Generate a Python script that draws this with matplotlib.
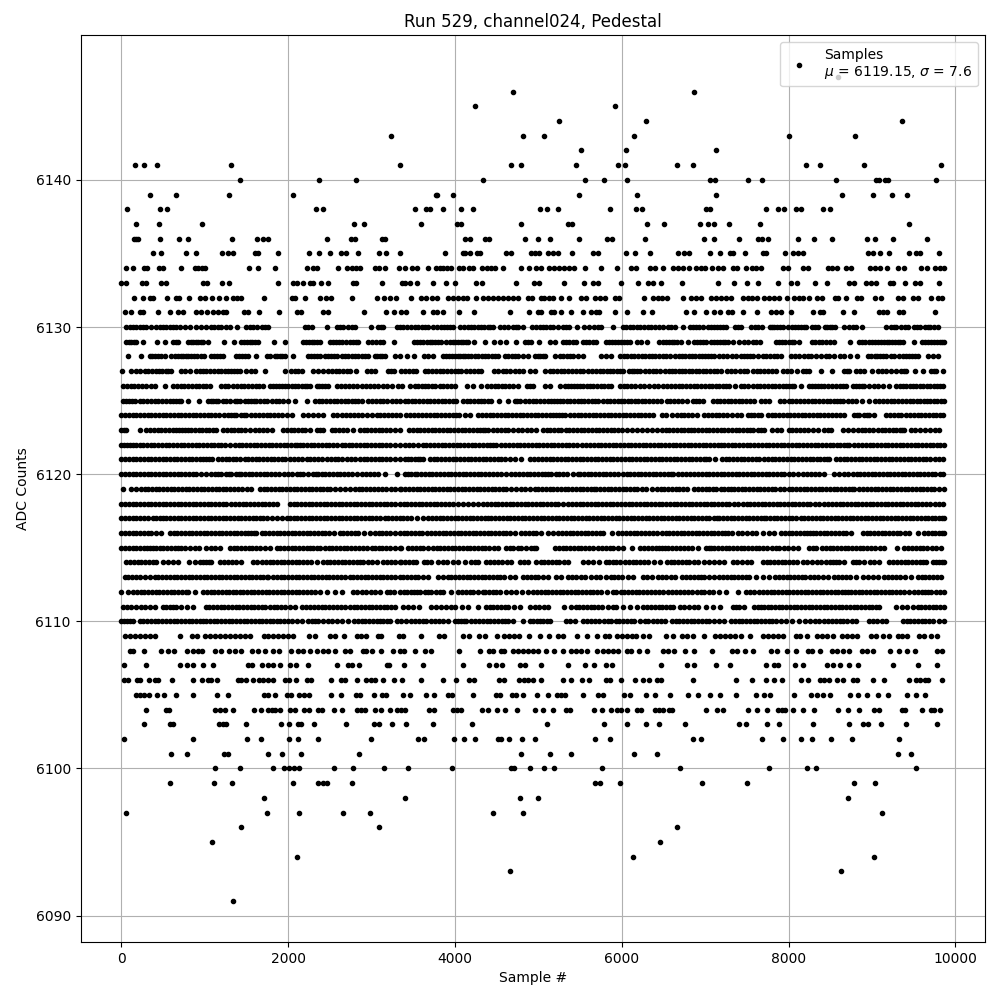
import numpy as np
import matplotlib
matplotlib.use("Agg")
import matplotlib.pyplot as plt

# -------------------------------
# Sample numbers, one list per ADC level
# -------------------------------
s6147 = [8592]
s6146 = [4700, 6864]
s6145 = [4244, 5916]
s6144 = [5244, 6288, 9360]
s6143 = [3236, 4820, 5064, 6144, 8004, 8796]
s6142 = [5508, 6048, 7128]
s6141 = [168, 276, 428, 1316, 3344, 4676, 4796, 5448, 5952, 6040, 6660, 6852, 8208, 8376, 8904, 9828]
s6140 = [1424, 2372, 2816, 4340, 5556, 5784, 6060, 7056, 7116, 7512, 7680, 8568, 9048, 9084, 9156, 9192, 9768]
s6139 = [344, 656, 1292, 2060, 3768, 3788, 3980, 5484, 6180, 7128, 8640, 9012, 9240, 9420]
s6138 = [68, 464, 548, 2336, 2420, 3524, 3656, 3704, 3860, 4076, 4220, 5016, 5100, 5232, 5856, 6168, 6240,
         7008, 7056, 7728, 7872, 7944, 8088, 8148, 8412, 8496]
s6137 = [176, 452, 968, 2792, 2912, 3596, 4028, 4076, 4796, 5352, 5400, 6300, 6504, 6936, 7032, 7104, 7284,
         7656, 9444]
s6136 = [148, 172, 196, 464, 692, 800, 1328, 1628, 1700, 1760, 2468, 2748, 2800, 3120, 3160, 4124, 4184, 4364,
         4404, 4844, 4992, 5136, 5484, 5820, 5880, 6276, 6984, 7104, 7404, 7632, 7680, 7752, 8112, 8304, 8520,
         8940, 9036, 9252, 9660]
s6135 = [380, 476, 776, 896, 1208, 1280, 1340, 1604, 1640, 1880, 2252, 2372, 2504, 2636, 2696, 2840, 3092, 3176,
         3344, 3884, 4100, 4124, 4184, 4268, 4304, 4616, 4676, 4912, 4960, 5012, 5112, 5172, 5232, 5400, 5652,
         5712, 6048, 6156, 6336, 6672, 6744, 6804, 7056, 7176, 7292, 7332, 7476, 7692, 7732, 7956, 8052, 8112,
         8172, 8952, 9012, 9096, 9204, 9444, 9532, 9572, 9804]
s6134 = [56, 140, 272, 308, 452, 500, 716, 884, 920, 968, 1004, 1532, 1640, 1844, 2228, 2300, 2340, 2600, 2708,
         2760, 2816, 2864, 3044, 3092, 3164, 3332, 3404, 3480, 3540, 3680, 3776, 3820, 3860, 3900, 3950, 4052,
         4100, 4172, 4220, 4324, 4380, 4430, 4480, 4580, 4796, 4892, 4972, 5032, 5132, 5192, 5252, 5312, 5372,
         5432, 5556, 5752, 5940, 6112, 6164, 6336, 6396, 6492, 6612, 6672, 6732, 6804, 6892, 6952, 7000, 7084,
         7156, 7216, 7332, 7380, 7488, 7560, 7612, 7672, 7932, 7992, 8172, 8232, 8472, 8524, 8580, 8692, 8752,
         8972, 9032, 9092, 9180, 9312, 9380, 9592, 9660, 9752, 9812, 9860]
s6133 = [-4, 56, 248, 296, 476, 536, 980, 1028, 1208, 1292, 1880, 2060, 2108, 2180, 2260, 2300, 2396, 2480, 2780,
         2816, 3128, 3368, 3404, 3464, 3548, 3740, 3896, 4000, 4256, 4328, 4736, 4952, 5012, 5312, 5544, 5652,
         5712, 5988, 6192, 6312, 6372, 6468, 6720, 7152, 7344, 7500, 7632, 7872, 8028, 8100, 8316, 8460, 8724,
         8780, 8932, 8992, 9044, 9212, 9252, 9396, 9512, 9580, 9804]
s6132 = [152, 260, 344, 380, 548, 656, 692, 812, 944, 1004, 1088, 1172, 1256, 1340, 1388, 1436, 1712, 2048, 2084,
         2204, 2384, 2456, 2516, 2764, 3068, 3152, 3224, 3296, 3476, 3596, 3656, 3728, 3788, 3920, 3980, 4040,
         4100, 4148, 4256, 4340, 4400, 4460, 4520, 4580, 4640, 4700, 4760, 4880, 4928, 5032, 5072, 5132, 5172,
         5268, 5364, 5512, 5572, 5680, 5740, 5796, 5924, 5972, 6264, 6372, 6432, 6480, 6540, 6732, 6832, 6892,
         6952, 7072, 7132, 7192, 7252, 7312, 7452, 7512, 7560, 7620, 7704, 7764, 7824, 7884, 7976, 8064, 8124,
         8172, 8244, 8340, 8404, 8552, 8592, 8688, 8820, 8872, 9036, 9108, 9312, 9372, 9492, 9552, 9708, 9792, 9840]
s6131 = [44, 116, 224, 260, 440, 584, 680, 740, 896, 956, 1028, 1100, 1160, 1220, 1256, 1472, 1520, 1652, 1892,
         2108, 2156, 2420, 2480, 2912, 3176, 3272, 3356, 3416, 3620, 3740, 3788, 3860, 4052, 4232, 4664, 4892,
         4992, 5032, 5152, 5192, 5272, 5388, 5532, 5632, 5692, 5724, 5916, 6060, 6252, 6360, 6768, 6864, 7008,
         7104, 7172, 7272, 7320, 7452, 7616, 7788, 7852, 7908, 8028, 8292, 8372, 8412, 8652, 8784, 9084, 9132,
         9180, 9324, 9372, 9756]
s6130 = [60, 100, 140, 180, 220, 260, 300, 360, 420, 460, 500, 540, 580, 620, 660, 700, 760, 820, 900, 960, 1020,
         1072, 1116, 1160, 1200, 1250, 1300, 1388, 1500, 1540, 1580, 1630, 1680, 1720, 1760, 2200, 2240, 2280,
         2460, 2580, 2620, 2660, 2720, 2760, 2800, 2992, 3080, 3110, 3140, 3300, 3340, 3380, 3425, 3470, 3515,
         3560, 3600, 3640, 3680, 3740, 3785, 3830, 3865, 3900, 3940, 3980, 4060, 4105, 4150, 4190, 4230, 4270,
         4310, 4350, 4390, 4425, 4460, 4540, 4590, 4640, 4700, 4730, 4760, 4820, 4920, 4970, 5020, 5055, 5090,
         5135, 5180, 5235, 5290, 5330, 5372, 5464, 5552, 5612, 5672, 5712, 5752, 5892, 6012, 6052, 6092, 6132,
         6176, 6220, 6265, 6310, 6355, 6400, 6445, 6492, 6552, 6592, 6632, 6732, 6812, 6850, 6890, 6930, 6972,
         7032, 7070, 7110, 7145, 7180, 7215, 7252, 7352, 7392, 7432, 7552, 7592, 7632, 7680, 7772, 7800, 7830,
         7860, 7892, 7932, 7992, 8035, 8080, 8115, 8150, 8180, 8212, 8284, 8318, 8352, 8432, 8460, 8490, 8520,
         8552, 8664, 8724, 8768, 8812, 8880, 9164, 9232, 9262, 9292, 9352, 9392, 9432, 9500, 9535, 9572, 9632,
         9665, 9700, 9745, 9792]
s6129 = [60, 90, 120, 150, 180, 260, 428, 524, 620, 650, 680, 800, 830, 860, 890, 920, 950, 980, 1040, 1228, 1352,
         1440, 1475, 1510, 1540, 1570, 1605, 1640, 1832, 1960, 2180, 2215, 2250, 2280, 2310, 2345, 2380, 2500,
         2535, 2570, 2605, 2640, 2690, 2740, 2780, 2810, 2840, 2960, 3005, 3050, 3095, 3140, 3272, 3504, 3540,
         3580, 3620, 3660, 3695, 3730, 3765, 3796, 3836, 3896, 3935, 3970, 4005, 4040, 4070, 4100, 4130, 4156,
         4224, 4356, 4468, 4536, 4608, 4732, 4836, 4875, 4916, 5008, 5136, 5196, 5296, 5335, 5370, 5415, 5456,
         5536, 5575, 5610, 5655, 5696, 5808, 5845, 5880, 5920, 5960, 5995, 6030, 6065, 6096, 6176, 6224, 6304,
         6448, 6490, 6530, 6565, 6600, 6630, 6656, 6708, 6788, 6868, 6905, 6940, 6975, 7008, 7068, 7105, 7140,
         7175, 7210, 7240, 7268, 7328, 7408, 7460, 7508, 7568, 7612, 7656, 7848, 7885, 7920, 7960, 8000, 8035,
         8068, 8120, 8280, 8320, 8360, 8405, 8450, 8500, 8548, 8740, 8848, 8885, 8920, 8960, 9000, 9035, 9070,
         9105, 9140, 9175, 9208, 9240, 9275, 9310, 9340, 9368, 9500, 9600, 9635, 9670, 9705, 9740, 9775, 9810,
         9840, 9868]
s6128 = [76, 236, 340, 370, 400, 440, 480, 520, 600, 640, 680, 710, 740, 770, 800, 840, 875, 910, 950, 988, 1080,
         1115, 1150, 1185, 1220, 1380, 1415, 1450, 1485, 1520, 1612, 1740, 1780, 1840, 1870, 1900, 1930, 1960,
         2052, 2240, 2275, 2310, 2345, 2380, 2440, 2475, 2510, 2545, 2580, 2640, 2680, 2720, 2760, 2800, 2840,
         2880, 2920, 2960, 3040, 3070, 3100, 3130, 3160, 3280, 3336, 3424, 3512, 3624, 3676, 3736, 3856, 3895,
         3930, 3965, 4000, 4030, 4056, 4096, 4125, 4156, 4196, 4240, 4280, 4320, 4360, 4400, 4440, 4480, 4516,
         4596, 4640, 4680, 4720, 4760, 4820, 4876, 4956, 4990, 5020, 5050, 5076, 5196, 5256, 5300, 5340, 5380,
         5420, 5480, 5536, 5756, 5816, 5868, 5976, 6020, 6060, 6105, 6150, 6195, 6240, 6280, 6320, 6360, 6400,
         6445, 6490, 6535, 6576, 6636, 6680, 6720, 6760, 6800, 6840, 6880, 6920, 6960, 6995, 7030, 7070, 7108,
         7168, 7215, 7260, 7315, 7368, 7428, 7465, 7500, 7535, 7568, 7628, 7688, 7728, 7775, 7820, 7865, 7908,
         8028, 8080, 8130, 8180, 8228, 8268, 8328, 8388, 8448, 8488, 8548, 8610, 8668, 8740, 8816, 8948, 8990,
         9030, 9065, 9100, 9135, 9168, 9228, 9268, 9328, 9370, 9410, 9445, 9480, 9515, 9548, 9668, 9728, 9792]
s6127 = [8, 120, 170, 220, 280, 325, 370, 410, 450, 490, 530, 565, 600, 720, 760, 828, 900, 940, 980, 1020, 1065,
         1110, 1155, 1200, 1240, 1280, 1315, 1350, 1385, 1420, 1500, 1550, 1600, 1724, 1960, 2028, 2080, 2120,
         2160, 2300, 2360, 2420, 2480, 2525, 2570, 2615, 2660, 2700, 2740, 2812, 2940, 2990, 3040, 3200, 3235,
         3270, 3356, 3405, 3450, 3495, 3536, 3636, 3680, 3720, 3770, 3816, 3856, 3905, 3950, 3995, 4036, 4076,
         4136, 4185, 4230, 4275, 4316, 4464, 4516, 4576, 4616, 4656, 4716, 4765, 4816, 4896, 4956, 5076, 5136,
         5180, 5220, 5265, 5310, 5355, 5400, 5450, 5496, 5536, 5590, 5640, 5690, 5736, 5776, 5820, 5860, 5900,
         5940, 5980, 6016, 6088, 6120, 6150, 6185, 6216, 6276, 6325, 6370, 6415, 6456, 6516, 6560, 6600, 6640,
         6680, 6720, 6760, 6800, 6840, 6885, 6930, 6970, 7010, 7055, 7100, 7145, 7188, 7256, 7310, 7360, 7415,
         7468, 7500, 7568, 7615, 7660, 7705, 7750, 7800, 7848, 7928, 7980, 8028, 8096, 8168, 8210, 8248, 8384,
         8516, 8660, 8695, 8728, 8812, 8860, 8908, 8996, 9068, 9120, 9170, 9230, 9288, 9348, 9380, 9408, 9516,
         9608, 9708, 9740, 9768, 9848]
s6126 = [20, 65, 110, 155, 200, 250, 300, 350, 400, 520, 620, 665, 710, 755, 800, 845, 890, 935, 980, 1020, 1060,
         1200, 1240, 1280, 1340, 1385, 1430, 1475, 1520, 1565, 1610, 1655, 1700, 1780, 1815, 1850, 1885, 1920,
         1960, 2000, 2040, 2080, 2120, 2160, 2200, 2230, 2260, 2340, 2375, 2410, 2445, 2480, 2580, 2630, 2680,
         2730, 2780, 2830, 2880, 2930, 2980, 3030, 3080, 3140, 3190, 3240, 3320, 3360, 3456, 3516, 3560, 3600,
         3640, 3680, 3720, 3756, 3816, 3860, 3900, 3950, 3996, 4148, 4216, 4316, 4384, 4430, 4476, 4516, 4560,
         4600, 4650, 4696, 4756, 4864, 4900, 4936, 5076, 5136, 5256, 5316, 5356, 5395, 5430, 5465, 5496, 5536,
         5580, 5620, 5660, 5700, 5745, 5790, 5835, 5876, 5976, 6020, 6060, 6110, 6156, 6216, 6270, 6320, 6380,
         6436, 6496, 6545, 6590, 6635, 6680, 6725, 6770, 6815, 6860, 6905, 6950, 6995, 7040, 7085, 7130, 7170,
         7210, 7250, 7288, 7356, 7428, 7470, 7508, 7568, 7615, 7660, 7705, 7750, 7795, 7840, 7885, 7930, 7965,
         8000, 8035, 8068, 8144, 8248, 8285, 8320, 8355, 8388, 8428, 8475, 8520, 8565, 8610, 8650, 8688, 8768,
         8805, 8840, 8875, 8908, 8968, 9020, 9068, 9128, 9208, 9288, 9330, 9370, 9410, 9450, 9490, 9530, 9570,
         9610, 9655, 9700, 9740, 9780, 9815, 9848]
s6125 = [20, 55, 90, 125, 160, 220, 265, 310, 355, 400, 445, 490, 535, 580, 615, 650, 685, 720, 800, 932, 1040,
         1070, 1100, 1130, 1160, 1220, 1260, 1300, 1360, 1390, 1420, 1480, 1515, 1550, 1585, 1620, 1660, 1705,
         1750, 1800, 1850, 1895, 1940, 2000, 2080, 2220, 2320, 2365, 2410, 2455, 2500, 2545, 2590, 2635, 2680,
         2720, 2760, 2800, 2840, 2880, 2960, 3005, 3050, 3095, 3140, 3190, 3240, 3290, 3340, 3396, 3440, 3480,
         3525, 3570, 3615, 3660, 3705, 3750, 3795, 3840, 3885, 3930, 3975, 4016, 4096, 4140, 4180, 4225, 4270,
         4310, 4350, 4395, 4436, 4528, 4636, 4716, 4745, 4776, 4836, 4885, 4930, 4975, 5020, 5065, 5110, 5150,
         5190, 5225, 5256, 5296, 5340, 5380, 5425, 5470, 5510, 5550, 5595, 5640, 5680, 5716, 5776, 5820, 5860,
         5905, 5950, 5990, 6030, 6070, 6110, 6155, 6196, 6236, 6280, 6320, 6370, 6416, 6464, 6536, 6580, 6620,
         6670, 6716, 6776, 6848, 6890, 6930, 6968, 7088, 7135, 7180, 7225, 7268, 7308, 7355, 7400, 7445, 7490,
         7540, 7588, 7668, 7720, 7768, 7900, 7950, 8000, 8045, 8088, 8136, 8185, 8230, 8275, 8320, 8365, 8410,
         8455, 8500, 8540, 8580, 8615, 8648, 8708, 8760, 8808, 8880, 8960, 9040, 9085, 9130, 9180, 9228, 9268,
         9315, 9360, 9405, 9450, 9495, 9540, 9580, 9620, 9660, 9700, 9740, 9780, 9825, 9868]
s6124 = [0, 45, 90, 135, 180, 225, 270, 315, 360, 405, 450, 495, 540, 585, 630, 675, 720, 765, 810, 855, 900, 945,
         990, 1035, 1080, 1125, 1170, 1225, 1280, 1320, 1350, 1380, 1440, 1470, 1500, 1560, 1605, 1650, 1695, 1740,
         1785, 1830, 1875, 1920, 1980, 2040, 2180, 2240, 2300, 2360, 2420, 2540, 2590, 2640, 2690, 2740, 2790,
         2840, 2890, 2940, 3000, 3060, 3105, 3150, 3200, 3250, 3295, 3340, 3416, 3465, 3510, 3555, 3600, 3650,
         3700, 3745, 3790, 3835, 3880, 3925, 3970, 4010, 4050, 4116, 4180, 4276, 4325, 4370, 4415, 4460, 4505,
         4550, 4595, 4640, 4685, 4730, 4775, 4820, 4865, 4910, 4955, 5000, 5045, 5090, 5135, 5180, 5215, 5250,
         5285, 5316, 5376, 5425, 5470, 5515, 5560, 5605, 5650, 5695, 5740, 5785, 5830, 5875, 5920, 5965, 6010,
         6055, 6100, 6145, 6190, 6235, 6280, 6330, 6376, 6476, 6535, 6596, 6656, 6705, 6750, 6795, 6836, 6900,
         6988, 7035, 7080, 7125, 7168, 7208, 7265, 7320, 7375, 7428, 7508, 7550, 7590, 7630, 7668, 7748, 7795,
         7840, 7885, 7930, 7975, 8020, 8065, 8110, 8155, 8200, 8245, 8290, 8335, 8380, 8425, 8470, 8520, 8570,
         8620, 8668, 8788, 8820, 8848, 8908, 8938, 8968, 9028, 9168, 9215, 9260, 9305, 9348, 9408, 9455, 9500,
         9545, 9590, 9635, 9680, 9725, 9770, 9815, 9856]
s6123 = [0, 30, 60, 220, 300, 345, 390, 435, 480, 525, 570, 615, 660, 695, 730, 765, 800, 840, 885, 930, 970, 1010,
         1055, 1100, 1140, 1220, 1265, 1310, 1355, 1400, 1440, 1480, 1540, 1600, 1650, 1700, 1750, 1800, 1940,
         1985, 2030, 2075, 2120, 2160, 2200, 2260, 2340, 2380, 2420, 2520, 2565, 2610, 2655, 2700, 2780, 2860,
         2905, 2950, 2995, 3040, 3085, 3130, 3175, 3220, 3280, 3340, 3448, 3495, 3540, 3585, 3630, 3675, 3720,
         3765, 3810, 3855, 3900, 3945, 3990, 4035, 4080, 4125, 4170, 4215, 4260, 4295, 4330, 4365, 4396, 4456,
         4505, 4550, 4595, 4636, 4696, 4750, 4800, 4860, 4916, 4976, 5056, 5100, 5140, 5190, 5236, 5276, 5325,
         5370, 5415, 5460, 5505, 5550, 5595, 5640, 5685, 5730, 5775, 5820, 5865, 5910, 5955, 6000, 6060, 6116,
         6176, 6240, 6300, 6360, 6416, 6476, 6525, 6570, 6615, 6660, 6705, 6750, 6790, 6828, 6868, 6915, 6960,
         7005, 7050, 7095, 7140, 7185, 7230, 7275, 7320, 7365, 7410, 7455, 7500, 7535, 7568, 7628, 7668, 7708,
         7800, 7855, 7908, 8000, 8045, 8090, 8135, 8180, 8235, 8288, 8348, 8428, 8468, 8508, 8648, 8710, 8768,
         8828, 8875, 8920, 8965, 9008, 9068, 9115, 9160, 9205, 9250, 9290, 9330, 9360, 9388, 9468, 9520, 9570,
         9630, 9690, 9750, 9808]
s6122 = [0, 35, 70, 105, 140, 180, 220, 260, 305, 350, 395, 440, 485, 530, 575, 620, 665, 710, 755, 800, 845, 890,
         935, 980, 1025, 1070, 1115, 1160, 1200, 1240, 1300, 1360, 1405, 1450, 1495, 1540, 1585, 1630, 1675, 1720,
         1765, 1810, 1855, 1900, 1945, 1990, 2035, 2080, 2110, 2140, 2180, 2225, 2270, 2315, 2360, 2405, 2450,
         2495, 2540, 2590, 2640, 2680, 2725, 2770, 2815, 2860, 2905, 2950, 2995, 3040, 3085, 3130, 3175, 3220,
         3280, 3340, 3396, 3450, 3500, 3560, 3616, 3656, 3705, 3750, 3795, 3840, 3885, 3930, 3975, 4020, 4065,
         4110, 4155, 4200, 4245, 4290, 4335, 4380, 4420, 4456, 4496, 4556, 4605, 4650, 4695, 4740, 4785, 4830,
         4875, 4920, 4965, 5010, 5055, 5100, 5145, 5190, 5235, 5280, 5325, 5370, 5415, 5460, 5520, 5576, 5616,
         5665, 5710, 5755, 5800, 5845, 5890, 5935, 5980, 6025, 6070, 6115, 6160, 6205, 6250, 6295, 6340, 6385,
         6430, 6475, 6520, 6565, 6610, 6655, 6700, 6745, 6790, 6835, 6880, 6925, 6970, 7015, 7060, 7105, 7150,
         7190, 7228, 7268, 7315, 7360, 7405, 7450, 7495, 7540, 7585, 7630, 7680, 7728, 7768, 7815, 7860, 7905,
         7950, 7995, 8040, 8085, 8130, 8175, 8220, 8265, 8310, 8355, 8400, 8445, 8490, 8535, 8580, 8620, 8660,
         8695, 8728, 8788, 8835, 8880, 8925, 8970, 9015, 9060, 9105, 9150, 9195, 9240, 9285, 9330, 9375, 9420,
         9465, 9510, 9555, 9600, 9645, 9690, 9735, 9780, 9820, 9860]
s6121 = [0, 45, 90, 135, 180, 225, 270, 315, 360, 405, 450, 495, 540, 580, 625, 670, 715, 760, 805, 850, 895, 940,
         980, 1020, 1055, 1090, 1160, 1205, 1250, 1295, 1340, 1380, 1420, 1480, 1520, 1565, 1610, 1655, 1700, 1745,
         1790, 1835, 1880, 1920, 1960, 2020, 2070, 2120, 2170, 2220, 2260, 2310, 2360, 2410, 2460, 2510, 2560,
         2600, 2650, 2700, 2750, 2800, 2860, 2905, 2950, 2995, 3040, 3085, 3130, 3175, 3220, 3280, 3340, 3396,
         3436, 3476, 3516, 3556, 3586, 3616, 3696, 3745, 3790, 3835, 3880, 3925, 3970, 4015, 4060, 4105, 4150,
         4195, 4240, 4285, 4330, 4375, 4420, 4465, 4510, 4555, 4600, 4660, 4716, 4796, 4904, 4950, 5000, 5045,
         5090, 5135, 5180, 5225, 5270, 5315, 5360, 5405, 5450, 5495, 5540, 5585, 5630, 5675, 5720, 5765, 5810,
         5855, 5900, 5945, 5990, 6035, 6080, 6125, 6170, 6215, 6260, 6305, 6350, 6395, 6440, 6485, 6530, 6575,
         6620, 6665, 6710, 6755, 6800, 6845, 6890, 6935, 6980, 7015, 7048, 7120, 7200, 7245, 7290, 7335, 7380,
         7425, 7470, 7515, 7560, 7605, 7650, 7700, 7750, 7795, 7840, 7888, 7935, 7980, 8025, 8070, 8115, 8160,
         8205, 8250, 8295, 8340, 8380, 8420, 8455, 8488, 8568, 8615, 8660, 8705, 8750, 8795, 8840, 8885, 8930,
         8975, 9020, 9065, 9110, 9155, 9200, 9245, 9290, 9335, 9380, 9425, 9470, 9515, 9560, 9605, 9650, 9700,
         9750, 9800, 9848]
s6120 = [0, 45, 90, 135, 180, 225, 270, 315, 360, 405, 450, 495, 540, 585, 630, 675, 720, 765, 810, 855, 900, 960,
         1020, 1070, 1120, 1160, 1200, 1260, 1290, 1320, 1380, 1410, 1440, 1480, 1525, 1570, 1615, 1660, 1705,
         1750, 1795, 1840, 1895, 1950, 1995, 2040, 2100, 2140, 2180, 2240, 2300, 2330, 2360, 2400, 2445, 2490,
         2535, 2580, 2625, 2670, 2715, 2760, 2820, 2880, 2930, 2980, 3030, 3080, 3160, 3300, 3396, 3436, 3476,
         3516, 3550, 3595, 3640, 3685, 3730, 3775, 3820, 3865, 3910, 3955, 4000, 4045, 4090, 4135, 4180, 4225,
         4270, 4315, 4360, 4405, 4450, 4505, 4556, 4616, 4676, 4725, 4770, 4815, 4860, 4905, 4950, 4995, 5040,
         5080, 5116, 5156, 5205, 5250, 5295, 5340, 5410, 5476, 5496, 5545, 5590, 5635, 5680, 5725, 5770, 5815,
         5860, 5910, 5960, 6016, 6060, 6100, 6145, 6190, 6235, 6280, 6325, 6370, 6415, 6460, 6505, 6550, 6585,
         6616, 6676, 6725, 6770, 6820, 6868, 6915, 6960, 7005, 7050, 7095, 7140, 7185, 7230, 7275, 7320, 7365,
         7410, 7455, 7500, 7545, 7590, 7635, 7680, 7725, 7770, 7815, 7860, 7905, 7950, 8000, 8048, 8108, 8168,
         8220, 8270, 8320, 8368, 8428, 8548, 8608, 8660, 8708, 8768, 8815, 8860, 8905, 8950, 8995, 9040, 9085,
         9130, 9175, 9220, 9265, 9310, 9355, 9400, 9445, 9490, 9535, 9580, 9625, 9670, 9715, 9760, 9810, 9856]
s6119 = [20, 120, 180, 230, 280, 320, 365, 410, 455, 500, 545, 590, 635, 680, 725, 770, 815, 860, 905, 950, 995,
         1040, 1085, 1130, 1175, 1220, 1260, 1305, 1350, 1400, 1450, 1505, 1560, 1660, 1705, 1750, 1795, 1840,
         1885, 1930, 1975, 2020, 2065, 2110, 2155, 2200, 2245, 2290, 2335, 2380, 2420, 2460, 2500, 2560, 2620,
         2680, 2740, 2800, 2845, 2890, 2935, 2980, 3030, 3080, 3120, 3175, 3230, 3285, 3340, 3356, 3405, 3450,
         3495, 3540, 3585, 3630, 3675, 3720, 3765, 3810, 3855, 3900, 3945, 3990, 4035, 4080, 4125, 4170, 4215,
         4260, 4305, 4350, 4395, 4440, 4485, 4530, 4575, 4616, 4676, 4735, 4790, 4845, 4896, 4956, 4996, 5045,
         5090, 5135, 5180, 5225, 5270, 5315, 5360, 5405, 5450, 5495, 5540, 5585, 5630, 5665, 5696, 5736, 5785,
         5830, 5875, 5920, 5965, 6010, 6055, 6100, 6140, 6176, 6236, 6295, 6356, 6416, 6465, 6510, 6555, 6600,
         6645, 6690, 6735, 6776, 6860, 6910, 6960, 7005, 7048, 7090, 7128, 7188, 7230, 7270, 7310, 7348, 7388,
         7435, 7480, 7525, 7570, 7615, 7660, 7705, 7750, 7795, 7840, 7895, 7948, 8000, 8045, 8090, 8135, 8180,
         8225, 8270, 8315, 8360, 8405, 8450, 8495, 8540, 8585, 8630, 8675, 8720, 8755, 8788, 8848, 8895, 8940,
         8985, 9030, 9075, 9120, 9165, 9210, 9255, 9300, 9345, 9390, 9435, 9480, 9525, 9570, 9615, 9660, 9705,
         9748, 9808, 9860]
s6118 = [0, 45, 90, 135, 180, 225, 270, 315, 360, 405, 450, 495, 540, 585, 630, 675, 720, 765, 810, 855, 900, 945,
         990, 1035, 1080, 1125, 1170, 1215, 1260, 1310, 1360, 1410, 1460, 1500, 1545, 1590, 1635, 1680, 1725, 1770,
         1815, 1860, 2020, 2065, 2110, 2155, 2200, 2245, 2290, 2335, 2380, 2425, 2470, 2515, 2560, 2605, 2650,
         2695, 2740, 2785, 2830, 2875, 2920, 2965, 3010, 3055, 3100, 3145, 3190, 3235, 3280, 3340, 3385, 3430,
         3475, 3520, 3565, 3610, 3655, 3700, 3745, 3790, 3835, 3880, 3925, 3970, 4030, 4096, 4156, 4216, 4276,
         4336, 4385, 4430, 4475, 4520, 4565, 4610, 4655, 4700, 4745, 4790, 4835, 4880, 4925, 4970, 5015, 5060,
         5105, 5150, 5195, 5240, 5296, 5356, 5405, 5450, 5495, 5540, 5585, 5630, 5675, 5720, 5765, 5810, 5855,
         5900, 5945, 5990, 6035, 6080, 6125, 6170, 6215, 6260, 6305, 6350, 6395, 6440, 6485, 6530, 6575, 6620,
         6665, 6710, 6755, 6800, 6845, 6890, 6935, 6980, 7025, 7068, 7108, 7155, 7200, 7245, 7290, 7340, 7388,
         7448, 7495, 7540, 7585, 7630, 7675, 7720, 7765, 7810, 7855, 7900, 7945, 7990, 8035, 8080, 8125, 8170,
         8215, 8260, 8315, 8368, 8428, 8475, 8520, 8565, 8610, 8655, 8700, 8745, 8790, 8835, 8880, 8925, 8970,
         9015, 9060, 9105, 9150, 9195, 9240, 9285, 9330, 9375, 9420, 9465, 9510, 9555, 9600, 9645, 9690, 9750,
         9808, 9848]
s6117 = [0, 45, 90, 135, 180, 225, 270, 325, 380, 420, 460, 500, 540, 585, 630, 675, 720, 765, 810, 855, 900, 945,
         990, 1035, 1080, 1125, 1170, 1215, 1260, 1305, 1350, 1395, 1440, 1485, 1530, 1575, 1620, 1660, 1700, 1740,
         1800, 1860, 1920, 1980, 2020, 2065, 2110, 2155, 2200, 2245, 2290, 2335, 2380, 2425, 2470, 2515, 2560,
         2605, 2650, 2695, 2740, 2785, 2830, 2875, 2920, 2965, 3010, 3055, 3100, 3160, 3200, 3245, 3290, 3335,
         3380, 3425, 3470, 3545, 3616, 3676, 3725, 3770, 3815, 3860, 3905, 3950, 3995, 4040, 4085, 4130, 4175,
         4220, 4265, 4310, 4355, 4396, 4436, 4485, 4530, 4575, 4620, 4665, 4710, 4755, 4800, 4845, 4890, 4935,
         4980, 5025, 5070, 5115, 5160, 5205, 5250, 5295, 5340, 5385, 5430, 5475, 5520, 5565, 5610, 5655, 5700,
         5745, 5790, 5835, 5880, 5925, 5970, 6015, 6060, 6105, 6150, 6195, 6240, 6285, 6330, 6375, 6420, 6465,
         6510, 6555, 6600, 6645, 6690, 6735, 6780, 6825, 6870, 6915, 6960, 7005, 7050, 7108, 7138, 7168, 7215,
         7260, 7305, 7350, 7395, 7440, 7485, 7530, 7575, 7620, 7665, 7708, 7728, 7775, 7820, 7865, 7910, 7955,
         8000, 8045, 8090, 8145, 8188, 8235, 8280, 8325, 8370, 8415, 8460, 8505, 8550, 8595, 8640, 8685, 8730,
         8775, 8820, 8865, 8910, 8955, 9000, 9045, 9090, 9135, 9180, 9225, 9270, 9315, 9360, 9405, 9450, 9495,
         9540, 9585, 9630, 9675, 9720, 9760, 9800, 9835, 9868]
s6116 = [0, 45, 90, 135, 180, 225, 270, 315, 360, 420, 480, 580, 625, 670, 715, 760, 805, 850, 895, 940, 985, 1030,
         1075, 1120, 1165, 1210, 1255, 1300, 1345, 1390, 1435, 1480, 1515, 1550, 1585, 1620, 1680, 1725, 1770,
         1815, 1860, 1905, 1950, 1995, 2040, 2085, 2130, 2175, 2220, 2265, 2310, 2355, 2400, 2445, 2490, 2555,
         2620, 2660, 2705, 2750, 2795, 2840, 2910, 2980, 3040, 3085, 3130, 3175, 3220, 3280, 3340, 3385, 3430,
         3475, 3520, 3565, 3610, 3660, 3716, 3756, 3805, 3850, 3895, 3940, 3985, 4030, 4075, 4120, 4165, 4210,
         4255, 4300, 4345, 4390, 4435, 4480, 4525, 4570, 4615, 4656, 4716, 4796, 4845, 4890, 4935, 4976, 5036,
         5110, 5176, 5236, 5285, 5330, 5375, 5420, 5465, 5510, 5555, 5600, 5645, 5690, 5735, 5776, 5884, 5956,
         6005, 6050, 6095, 6140, 6185, 6230, 6275, 6320, 6370, 6416, 6480, 6525, 6570, 6615, 6660, 6705, 6750,
         6795, 6840, 6885, 6930, 6975, 7020, 7065, 7110, 7155, 7200, 7235, 7268, 7316, 7388, 7445, 7500, 7555,
         7608, 7688, 7760, 7828, 7908, 7955, 8000, 8045, 8090, 8135, 8180, 8220, 8260, 8295, 8328, 8375, 8420,
         8465, 8510, 8555, 8600, 8650, 8688, 8748, 8888, 8935, 8980, 9025, 9070, 9115, 9160, 9205, 9250, 9295,
         9340, 9395, 9448, 9548, 9628, 9675, 9720, 9760, 9800, 9835, 9868]
s6115 = [0, 45, 90, 135, 180, 225, 270, 305, 340, 380, 420, 460, 505, 550, 595, 640, 680, 720, 760, 820, 880, 932,
         1020, 1070, 1120, 1188, 1300, 1345, 1390, 1435, 1480, 1525, 1570, 1615, 1660, 1720, 1780, 1860, 1905,
         1950, 1995, 2040, 2085, 2130, 2175, 2220, 2260, 2300, 2340, 2380, 2440, 2485, 2530, 2575, 2620, 2665,
         2710, 2755, 2800, 2850, 2900, 2950, 3000, 3040, 3085, 3130, 3175, 3220, 3280, 3340, 3356, 3436, 3485,
         3530, 3575, 3620, 3680, 3736, 3784, 3825, 3870, 3915, 3960, 4005, 4050, 4095, 4140, 4185, 4230, 4275,
         4320, 4365, 4410, 4465, 4516, 4608, 4655, 4700, 4750, 4796, 4856, 4916, 4945, 4976, 5196, 5245, 5290,
         5335, 5380, 5425, 5470, 5515, 5560, 5610, 5656, 5716, 5765, 5810, 5855, 5900, 5960, 6016, 6124, 6216,
         6265, 6316, 6356, 6405, 6450, 6485, 6516, 6556, 6605, 6650, 6695, 6740, 6790, 6836, 6916, 7010, 7040,
         7068, 7108, 7155, 7200, 7245, 7290, 7335, 7380, 7425, 7470, 7515, 7560, 7605, 7650, 7695, 7740, 7795,
         7848, 7888, 7940, 7990, 8050, 8108, 8248, 8290, 8328, 8400, 8445, 8490, 8535, 8580, 8625, 8670, 8715,
         8760, 8805, 8850, 8895, 8940, 8985, 9030, 9090, 9148, 9296, 9388, 9435, 9480, 9525, 9570, 9615, 9660,
         9715, 9768, 9828]
s6114 = [60, 105, 150, 195, 240, 285, 330, 375, 420, 500, 560, 620, 680, 808, 888, 940, 975, 1010, 1045, 1080,
         1180, 1230, 1280, 1330, 1380, 1440, 1580, 1630, 1680, 1730, 1780, 1820, 1865, 1910, 1955, 2000, 2045,
         2090, 2135, 2180, 2225, 2270, 2345, 2420, 2460, 2505, 2550, 2595, 2640, 2685, 2730, 2775, 2820, 2860,
         2900, 2960, 3010, 3060, 3140, 3185, 3230, 3285, 3340, 3356, 3405, 3450, 3495, 3536, 3624, 3670, 3716,
         3796, 3850, 3900, 3970, 4036, 4116, 4196, 4235, 4276, 4376, 4425, 4470, 4515, 4560, 4620, 4676, 4776,
         4825, 4876, 4976, 5025, 5070, 5115, 5160, 5205, 5250, 5305, 5356, 5536, 5595, 5656, 5724, 5808, 5850,
         5890, 5935, 5976, 6036, 6085, 6130, 6175, 6220, 6265, 6310, 6385, 6456, 6536, 6585, 6630, 6675, 6720,
         6765, 6810, 6860, 6908, 6988, 7045, 7100, 7165, 7228, 7328, 7385, 7440, 7495, 7548, 7688, 7735, 7780,
         7825, 7870, 7915, 7960, 8005, 8048, 8096, 8168, 8225, 8280, 8335, 8388, 8448, 8490, 8530, 8570, 8608,
         8664, 8768, 8810, 8848, 8908, 8970, 9028, 9080, 9208, 9255, 9300, 9345, 9390, 9435, 9480, 9525, 9570,
         9610, 9648, 9728, 9765, 9800, 9835, 9868]
s6113 = [40, 85, 130, 175, 220, 280, 340, 400, 445, 490, 535, 580, 625, 670, 715, 760, 805, 850, 895, 940, 985,
         1030, 1075, 1120, 1165, 1210, 1255, 1300, 1345, 1390, 1435, 1480, 1525, 1570, 1615, 1660, 1700, 1740,
         1760, 1820, 1865, 1910, 1955, 2000, 2045, 2090, 2135, 2180, 2225, 2270, 2315, 2360, 2405, 2450, 2495,
         2540, 2585, 2630, 2685, 2740, 2780, 2825, 2870, 2915, 2960, 3005, 3050, 3095, 3140, 3185, 3230, 3285,
         3340, 3376, 3425, 3470, 3515, 3560, 3620, 3676, 3796, 3855, 3916, 3956, 4005, 4050, 4095, 4140, 4185,
         4230, 4275, 4320, 4365, 4410, 4455, 4500, 4545, 4590, 4655, 4716, 4816, 4865, 4910, 4955, 5000, 5060,
         5116, 5216, 5276, 5356, 5405, 5450, 5505, 5556, 5636, 5685, 5736, 5816, 5865, 5910, 5955, 6000, 6070,
         6136, 6256, 6305, 6356, 6436, 6485, 6530, 6585, 6636, 6716, 6768, 6820, 6865, 6908, 6950, 6990, 7050,
         7108, 7168, 7215, 7260, 7305, 7350, 7395, 7440, 7485, 7530, 7610, 7688, 7760, 7840, 7885, 7930, 7975,
         8020, 8065, 8110, 8155, 8200, 8250, 8300, 8355, 8408, 8468, 8548, 8595, 8640, 8685, 8730, 8810, 8888,
         8948, 9010, 9068, 9148, 9195, 9240, 9285, 9330, 9400, 9468, 9548, 9595, 9640, 9685, 9730, 9780, 9828]
s6112 = [0, 80, 140, 185, 230, 275, 320, 365, 410, 455, 500, 545, 590, 635, 680, 725, 770, 800, 888, 980, 1025,
         1070, 1115, 1160, 1205, 1250, 1295, 1340, 1380, 1420, 1460, 1505, 1550, 1595, 1640, 1685, 1730, 1775,
         1820, 1865, 1910, 1955, 2000, 2045, 2090, 2135, 2180, 2225, 2270, 2325, 2380, 2460, 2564, 2640, 2780,
         2830, 2880, 2935, 2990, 3045, 3100, 3180, 3225, 3270, 3336, 3385, 3430, 3470, 3510, 3545, 3576, 3636,
         3675, 3716, 3776, 3815, 3856, 3956, 4036, 4085, 4130, 4175, 4220, 4280, 4336, 4356, 4405, 4450, 4495,
         4540, 4610, 4676, 4736, 4805, 4876, 4936, 4985, 5030, 5075, 5120, 5165, 5210, 5255, 5300, 5345, 5390,
         5435, 5480, 5525, 5570, 5615, 5660, 5705, 5750, 5825, 5896, 5936, 5985, 6030, 6075, 6120, 6165, 6210,
         6255, 6300, 6350, 6400, 6450, 6496, 6556, 6605, 6650, 6695, 6740, 6790, 6836, 6900, 6945, 6990, 7040,
         7088, 7168, 7248, 7388, 7488, 7540, 7590, 7640, 7690, 7740, 7788, 7828, 7875, 7920, 7965, 8010, 8055,
         8100, 8145, 8190, 8235, 8280, 8325, 8370, 8415, 8460, 8505, 8550, 8595, 8640, 8675, 8708, 8748, 8795,
         8840, 8885, 8930, 8975, 9020, 9065, 9110, 9155, 9200, 9245, 9290, 9335, 9380, 9445, 9508, 9548, 9595,
         9640, 9675, 9708, 9768, 9820, 9868]
s6111 = [20, 65, 110, 175, 240, 280, 340, 400, 500, 540, 580, 620, 660, 720, 790, 860, 1012, 1055, 1100, 1145,
         1190, 1235, 1280, 1325, 1370, 1415, 1460, 1505, 1550, 1595, 1640, 1680, 1720, 1780, 1825, 1870, 1915,
         1960, 2020, 2080, 2160, 2210, 2260, 2310, 2360, 2400, 2445, 2490, 2535, 2580, 2630, 2680, 2740, 2785,
         2830, 2875, 2920, 2965, 3010, 3055, 3100, 3145, 3190, 3235, 3280, 3376, 3440, 3496, 3568, 3716, 3775,
         3836, 3896, 3950, 4000, 4080, 4156, 4276, 4368, 4415, 4460, 4505, 4550, 4595, 4640, 4710, 4776, 4904,
         4960, 5010, 5065, 5116, 5304, 5396, 5445, 5490, 5535, 5580, 5625, 5670, 5715, 5760, 5830, 5896, 5936,
         6015, 6096, 6176, 6256, 6305, 6350, 6395, 6440, 6485, 6530, 6575, 6616, 6696, 6750, 6800, 6860, 6908,
         7008, 7096, 7176, 7328, 7370, 7408, 7468, 7588, 7630, 7670, 7710, 7748, 7788, 7835, 7880, 7925, 7970,
         8015, 8060, 8105, 8150, 8195, 8240, 8285, 8330, 8375, 8420, 8465, 8510, 8555, 8600, 8645, 8690, 8735,
         8780, 8825, 8870, 8915, 8960, 9005, 9048, 9088, 9288, 9355, 9420, 9485, 9548, 9588, 9635, 9680, 9725,
         9770, 9820, 9868]
s6110 = [0, 35, 70, 105, 140, 220, 265, 310, 355, 400, 445, 490, 535, 580, 625, 670, 715, 760, 805, 850, 895, 940,
         980, 1020, 1060, 1105, 1150, 1195, 1240, 1285, 1330, 1375, 1420, 1465, 1510, 1555, 1600, 1645, 1690, 1735,
         1780, 1820, 1860, 1900, 1950, 2000, 2050, 2100, 2170, 2240, 2280, 2320, 2360, 2420, 2475, 2530, 2585,
         2640, 2720, 2788, 2835, 2880, 2925, 2970, 3015, 3060, 3100, 3140, 3180, 3220, 3300, 3356, 3416, 3470,
         3520, 3570, 3616, 3656, 3710, 3760, 3810, 3856, 3916, 3996, 4035, 4070, 4105, 4136, 4196, 4245, 4290,
         4335, 4380, 4425, 4470, 4515, 4560, 4600, 4636, 4696, 4816, 4896, 4940, 4980, 5020, 5060, 5100, 5136,
         5336, 5376, 5444, 5536, 5585, 5630, 5680, 5730, 5785, 5836, 5876, 5925, 5970, 6015, 6060, 6105, 6150,
         6215, 6276, 6316, 6370, 6420, 6470, 6516, 6596, 6645, 6690, 6735, 6780, 6825, 6870, 6915, 6960, 7005,
         7050, 7110, 7168, 7228, 7308, 7355, 7400, 7445, 7490, 7535, 7580, 7625, 7670, 7715, 7760, 7805, 7850,
         7910, 7968, 8036, 8128, 8190, 8250, 8310, 8368, 8428, 8475, 8520, 8565, 8610, 8655, 8700, 8755, 8808,
         8968, 9015, 9060, 9115, 9168, 9368, 9415, 9460, 9505, 9550, 9595, 9640, 9685, 9730, 9800, 9868]
s6109 = [40, 100, 160, 220, 280, 340, 400, 704, 848, 908, 1004, 1064, 1124, 1184, 1244, 1304, 1364, 1424, 1484,
         1544, 1712, 1760, 1820, 1880, 1940, 2000, 2060, 2252, 2324, 2504, 2564, 2672, 2828, 2876, 2936, 3080,
         3116, 3332, 3380, 3596, 3812, 3872, 4100, 4172, 4292, 4364, 4508, 4592, 4652, 4712, 4772, 4892, 5016,
         5124, 5232, 5292, 5460, 5580, 5700, 5796, 5844, 5940, 6000, 6060, 6120, 6168, 6252, 6324, 6528, 6612,
         6720, 6780, 6852, 6984, 7116, 7176, 7236, 7296, 7356, 7428, 7536, 7692, 7752, 7812, 7872, 7932, 8088,
         8136, 8220, 8340, 8400, 8460, 8532, 8640, 8700, 8760, 8820, 8988, 9048, 9132, 9204, 9312, 9360, 9420,
         9564, 9624, 9708, 9780]
s6108 = [104, 140, 272, 476, 560, 632, 788, 860, 920, 968, 1124, 1196, 1292, 1364, 1436, 1568, 1640, 1720, 1820,
         1892, 2036, 2120, 2180, 2260, 2340, 2420, 2480, 2564, 2684, 2744, 2900, 2936, 3008, 3116, 3260, 3344,
         3392, 3524, 3644, 3716, 4052, 4304, 4412, 4460, 4556, 4592, 4700, 4760, 4820, 4880, 4940, 5000, 5088,
         5184, 5292, 5388, 5452, 5512, 5580, 5700, 5772, 5832, 5892, 5952, 6060, 6108, 6204, 6300, 6492, 6552,
         6624, 6756, 6864, 7080, 7320, 7380, 7476, 7572, 7788, 7860, 7980, 8088, 8232, 8280, 8376, 8520, 8580,
         8652, 8724, 8880, 8940, 9012, 9216, 9324, 9420, 9516, 9780, 9840]
s6107 = [32, 296, 704, 788, 860, 980, 1100, 1520, 1568, 1688, 1760, 1820, 1904, 2024, 2096, 2240, 2588, 2720, 2768,
         2852, 3188, 3212, 3392, 3620, 4100, 4412, 4496, 4568, 4784, 4844, 5028, 5352, 5556, 5664, 5808, 5880,
         6468, 6780, 6864, 7128, 7296, 7728, 7824, 7872, 8076, 8172, 8460, 8532, 8616, 8724, 8832, 9252, 9552, 9780]
s6106 = [32, 80, 188, 224, 332, 404, 440, 608, 860, 968, 1040, 1076, 1148, 1400, 1440, 1500, 1580, 1652, 1700,
         1760, 1820, 1964, 2012, 2096, 2228, 2276, 2516, 2636, 2684, 2828, 2936, 2996, 3044, 3140, 3272, 3368,
         3596, 3860, 4016, 4172, 4228, 4532, 4592, 4772, 4832, 4880, 4940, 5028, 5292, 5388, 5520, 5604, 5808,
         5856, 5988, 6156, 6252, 6324, 6420, 6468, 6852, 7368, 7560, 7728, 7824, 7920, 8148, 8232, 8376, 8424,
         8484, 8580, 8652, 8772, 8820, 9012, 9144, 9444, 9528, 9576, 9636, 9672, 9840]
s6105 = [176, 224, 272, 332, 428, 512, 656, 860, 1148, 1280, 1712, 1760, 1844, 1988, 2036, 2132, 2192, 2252, 2516,
         2636, 2816, 2864, 3032, 3128, 3176, 3380, 3464, 3656, 3752, 3920, 3968, 4220, 4496, 4544, 4688, 4736,
         4820, 4980, 5112, 5220, 5268, 5316, 5532, 5712, 5772, 6024, 6096, 6288, 6396, 6576, 6792, 6912, 7056,
         7176, 7368, 7608, 7704, 7776, 8064, 8268, 8340, 8412, 8496, 8736, 8832, 8940, 9072, 9192, 9420, 9528, 9636]
s6104 = [296, 536, 572, 1124, 1184, 1244, 1336, 1592, 1676, 1760, 1800, 1840, 1900, 2024, 2084, 2192, 2252, 2360,
         2408, 2552, 2648, 2828, 2876, 2924, 3044, 3116, 3224, 3308, 3356, 3404, 3692, 3752, 3980, 4028, 4076,
         4328, 4400, 4508, 4604, 4748, 4964, 5052, 5172, 5328, 5376, 5664, 5760, 5868, 5940, 5988, 6060, 6180,
         6228, 6396, 6444, 6492, 6564, 6600, 7008, 7140, 7212, 7512, 7620, 7740, 7872, 7920, 7956, 8052, 8172,
         8304, 8592, 8712, 8844, 9024, 9084, 9360, 9396, 9600, 9708, 9744, 9816]
s6103 = [272, 584, 620, 1172, 1220, 1256, 1496, 1916, 2012, 2120, 2156, 2312, 2696, 3032, 3092, 3248, 3416, 3740,
         4208, 5100, 5784, 6060, 6288, 6444, 6756, 7404, 7488, 7740, 7884, 8292, 8724, 8892, 8952, 9108, 9408, 9780]
s6102 = [32, 860, 1508, 1676, 2012, 2120, 2360, 2996, 3560, 3632, 3992, 4112, 4244, 4520, 4556, 4652, 4808, 4964,
         5676, 5856, 6852, 6948, 7680, 7932, 8148, 8280, 8508, 8760, 9324]
s6101 = [596, 788, 1232, 1280, 1760, 1928, 2156, 2852, 4796, 5136, 5388, 6144, 6420, 9312, 9468]
s6100 = [1124, 1424, 1820, 1952, 2012, 2072, 2132, 2552, 2780, 3152, 3440, 3968, 4676, 4712, 4904, 5064, 5184,
         5760, 6696, 7764, 8220, 8328, 9528]
s6099 = [584, 1112, 1328, 2060, 2360, 2420, 2468, 2768, 5676, 5736, 5976, 6960, 7500, 8784, 9036]
s6098 = [1712, 3404, 4784, 5000, 8712]
s6097 = [56, 1748, 2132, 2660, 2984, 4460, 4820, 9120]
s6096 = [1436, 3092, 6660]
s6095 = [1088, 6456]
s6094 = [2108, 6132, 9024]
s6093 = [4664, 8628]
s6091 = [1340]

levels = [6147, 6146, 6145, 6144, 6143, 6142, 6141, 6140, 6139, 6138, 6137, 6136, 6135, 6134, 6133, 6132, 6131,
          6130, 6129, 6128, 6127, 6126, 6125, 6124, 6123, 6122, 6121, 6120, 6119, 6118, 6117, 6116, 6115, 6114,
          6113, 6112, 6111, 6110, 6109, 6108, 6107, 6106, 6105, 6104, 6103, 6102, 6101, 6100, 6099, 6098, 6097,
          6096, 6095, 6094, 6093, 6091]
rows = [s6147, s6146, s6145, s6144, s6143, s6142, s6141, s6140, s6139, s6138, s6137, s6136, s6135, s6134, s6133,
        s6132, s6131, s6130, s6129, s6128, s6127, s6126, s6125, s6124, s6123, s6122, s6121, s6120, s6119, s6118,
        s6117, s6116, s6115, s6114, s6113, s6112, s6111, s6110, s6109, s6108, s6107, s6106, s6105, s6104, s6103,
        s6102, s6101, s6100, s6099, s6098, s6097, s6096, s6095, s6094, s6093, s6091]

x = np.concatenate([np.array(r, dtype=float) for r in rows])
y = np.concatenate([np.full(len(r), lev, dtype=float) for r, lev in zip(rows, levels)])

# -------------------------------
# Plot
# -------------------------------
fig, ax = plt.subplots(figsize=(10, 10), dpi=100)
ax.plot(x, y, "k.", label="Samples\n" + r"$\mu$ = 6119.15, $\sigma$ = 7.6")
ax.set_xlim(-490, 10354)
ax.set_ylim(6088.2, 6149.85)
ax.set_xlabel("Sample #")
ax.set_ylabel("ADC Counts")
ax.set_title("Run 529, channel024, Pedestal")
ax.grid(True)
ax.legend(loc="upper right")
fig.subplots_adjust(left=0.0805, right=0.985, top=0.965, bottom=0.058)

fig.savefig("out.png", dpi=100)
